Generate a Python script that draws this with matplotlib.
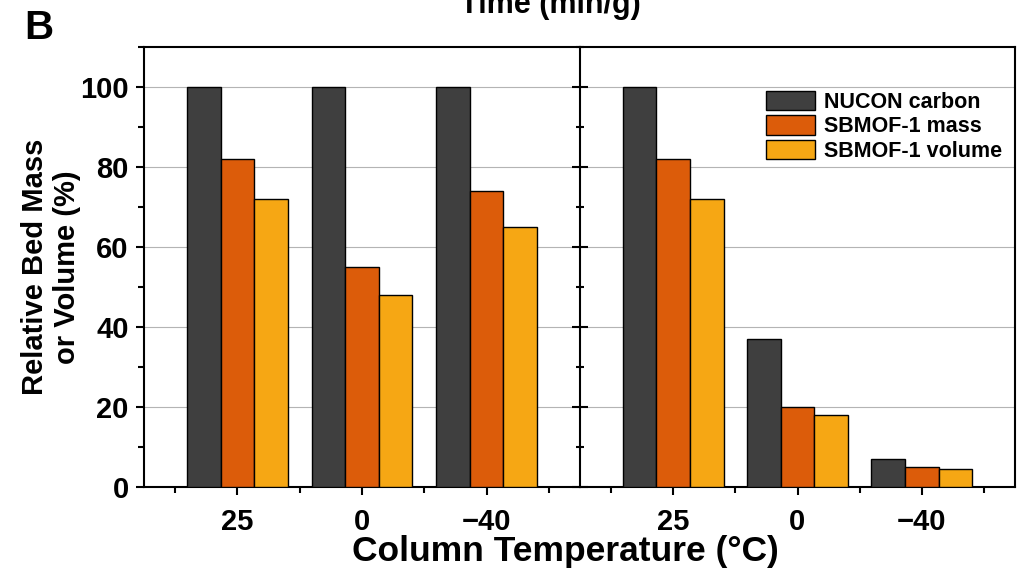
import numpy as np
import matplotlib.pyplot as plt
from matplotlib.ticker import MultipleLocator, FixedLocator

plt.rcParams['font.family'] = ['Liberation Sans', 'DejaVu Sans']
plt.rcParams['font.weight'] = 'bold'

## data
temps = ['25', '0', '\u221240']
series = ['NUCON carbon', 'SBMOF-1 mass', 'SBMOF-1 volume']
left_carbon = [100, 100, 100]
left_mass = [82, 55, 74]
left_volume = [72, 48, 65]
right_carbon = [100, 37, 7]
right_mass = [82, 20, 5]
right_volume = [72, 18, 4.5]

colors = ['#3f3f3f', '#dc5c0a', '#f6a714']
W, H = 1017, 575

fig = plt.figure(figsize=(W / 100, H / 100), dpi=100)
x0, xm, x1 = 144, 580, 1015
y0, y1 = 487, 47
ax1 = fig.add_axes([x0 / W, 1 - y0 / H, (xm - x0) / W, (y0 - y1) / H])
ax2 = fig.add_axes([xm / W, 1 - y0 / H, (x1 - xm) / W, (y0 - y1) / H])

x = np.arange(len(temps))
bw = 0.27
for ax, vals in [(ax1, [left_carbon, left_mass, left_volume]),
                 (ax2, [right_carbon, right_mass, right_volume])]:
    for i, (v, c, lab) in enumerate(zip(vals, colors, series)):
        ax.bar(x + (i - 1) * bw, v, bw, color=c, edgecolor='black', linewidth=1.0,
               label=lab, zorder=3)
    ax.set_xlim(-0.75, 2.75)
    ax.set_ylim(0, 110)
    ax.set_xticks(x)
    ax.set_xticklabels(temps)
    ax.xaxis.set_minor_locator(FixedLocator([-0.5, 0.5, 1.5, 2.5]))
    ax.yaxis.set_major_locator(MultipleLocator(20))
    ax.yaxis.set_minor_locator(MultipleLocator(10))
    ax.grid(axis='y', color='#b4b4b4', linewidth=0.8, zorder=0)
    ax.tick_params(axis='x', which='major', direction='out', length=6, width=1.5,
                   labelsize=21, pad=9)
    ax.tick_params(axis='x', which='minor', direction='out', length=4, width=1.5)
    for s in ax.spines.values():
        s.set_linewidth(1.5)

ax1.spines['right'].set_visible(False)
ax1.tick_params(axis='y', which='major', direction='out', length=6, width=1.5,
                labelsize=21, pad=5)
ax1.tick_params(axis='y', which='minor', direction='out', length=4, width=1.5)

ax2.tick_params(axis='y', which='major', direction='inout', length=12, width=1.5,
                labelleft=False)
ax2.tick_params(axis='y', which='minor', direction='inout', length=6, width=1.5)

ax2.legend(loc='upper right', bbox_to_anchor=(1.0, 0.93), frameon=False,
           prop={'size': 15.5, 'weight': 'bold'}, handlelength=2.3, handleheight=1.0,
           labelspacing=0.12, handletextpad=0.4, borderaxespad=0.2)

fig.text(51 / W, 1 - 267 / H, 'Relative Bed Mass\nor Volume (%)', rotation=90,
         ha='center', va='center', fontsize=21, fontweight='bold', linespacing=1.15,
         multialignment='center')
fig.text(565 / W, 1 - 552 / H, 'Column Temperature (\u00b0C)', ha='center', va='center',
         fontsize=25.5, fontweight='bold')
fig.text(39 / W, 1 - 28 / H, 'B', ha='center', va='center', fontsize=29, fontweight='bold')
fig.text(550 / W, 1 - 13 / H, 'Time (min/g)', ha='center', va='baseline',
         fontsize=22, fontweight='bold')

plt.savefig('out.png', dpi=100)
